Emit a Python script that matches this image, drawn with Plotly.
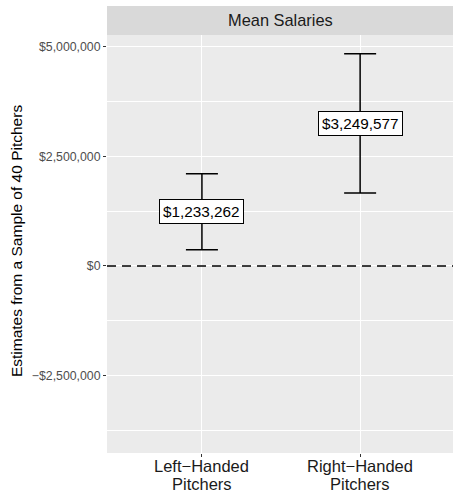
import plotly.graph_objects as go

# Mean salary estimates with confidence intervals
groups = ["Left\u2212Handed<br>Pitchers", "Right\u2212Handed<br>Pitchers"]
means = [1233262, 3249577]
margins = [866000, 1585000]
labels = ["$1,233,262", "$3,249,577"]

y_ticks = [-2500000, 0, 2500000, 5000000]
y_tick_text = ["\u2212$2,500,000", "$0", "$2,500,000", "$5,000,000"]
y_minor = [-3750000, -1250000, 1250000, 3750000]

FONT = "Liberation Sans, Arial, sans-serif"
PANEL_H = 418  # plot area height in px

fig = go.Figure()
fig.add_trace(go.Scatter(
    x=groups, y=means, mode="markers",
    marker=dict(size=1, color="rgba(0,0,0,0)"),
    error_y=dict(type="data", array=margins, symmetric=True,
                 color="black", thickness=1.5, width=16),
    hoverinfo="skip", showlegend=False,
))

# value labels in boxes
for g, m, t in zip(groups, means, labels):
    fig.add_annotation(x=g, y=m, text=t, showarrow=False,
                       font=dict(family=FONT, size=15.3, color="black"),
                       bgcolor="white", bordercolor="black", borderwidth=1,
                       borderpad=3, xanchor="center", yanchor="middle")

# category labels, one line at a time for tighter line spacing
for g in groups:
    for i, line in enumerate(g.split("<br>")):
        fig.add_annotation(x=g, xref="x", yref="paper",
                           y=-(13 + 18 * i) / PANEL_H, text=line,
                           showarrow=False, xanchor="center",
                           yanchor="middle",
                           font=dict(family=FONT, size=16.5, color="#1A1A1A"))

# reference line at zero
fig.add_hline(y=0, line=dict(color="black", width=1.5, dash="9px,6px"))

# facet strip
fig.add_shape(type="rect", xref="paper", yref="paper", x0=0, x1=1,
              y0=1, y1=1 + 29 / PANEL_H, fillcolor="#D9D9D9", line_width=0,
              layer="below")
fig.add_annotation(xref="paper", yref="paper", x=0.5, y=1 + 14.5 / PANEL_H,
                   text="Mean Salaries", showarrow=False,
                   font=dict(family=FONT, size=16.4, color="#1A1A1A"),
                   xanchor="center", yanchor="middle")

# y axis title
fig.add_annotation(xref="paper", yref="paper", x=-91 / 346, y=0.507,
                   text="Estimates from a Sample of 40 Pitchers",
                   showarrow=False, textangle=-90,
                   font=dict(family=FONT, size=15.5, color="black"),
                   xanchor="center", yanchor="middle")

fig.update_layout(
    width=453, height=493,
    margin=dict(l=107, r=0, t=35, b=40, autoexpand=False),
    paper_bgcolor="white", plot_bgcolor="#EBEBEB",
    font=dict(family=FONT),
    xaxis=dict(type="category", range=[-0.6, 1.587], automargin=False,
               showgrid=True, gridcolor="white", gridwidth=1.1,
               zeroline=False, showline=False, showticklabels=False,
               ticks="outside", ticklen=3, tickcolor="#333333", tickwidth=1),
    yaxis=dict(range=[-4262000, 5264000], automargin=False,
               tickvals=y_ticks, ticktext=y_tick_text,
               showgrid=True, gridcolor="white", gridwidth=1.1,
               zeroline=False, showline=False,
               ticks="outside", ticklen=3, tickcolor="#333333", tickwidth=1,
               tickfont=dict(size=12.3, color="#4D4D4D", family=FONT),
               minor=dict(tickvals=y_minor, showgrid=True,
                          gridcolor="white", gridwidth=0.5, ticks="")),
)

fig.write_html("out.html")
